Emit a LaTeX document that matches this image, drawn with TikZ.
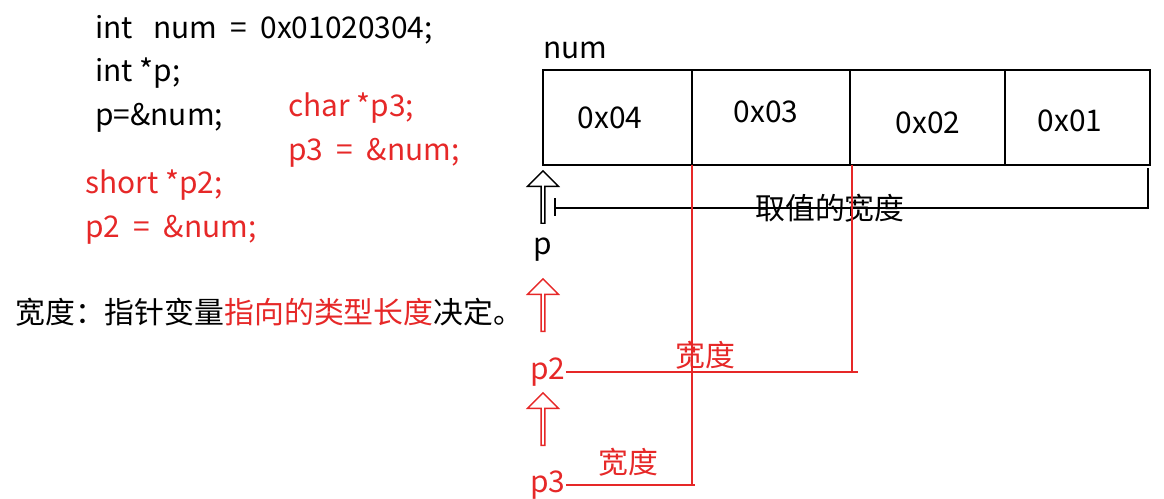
\documentclass[tikz,border=0pt]{standalone}
\usepackage{fontspec}
\setmainfont{Noto Sans CJK SC}
\usetikzlibrary{positioning, shapes.arrows}
\definecolor{CodeRed}{RGB}{230,40,40}
\tikzset{
  code/.style={anchor=west, inner sep=0pt, font=\fontsize{17}{20}\selectfont},
  redcode/.style={code, text=CodeRed},
  cell/.style={font=\fontsize{17}{20}\selectfont, inner sep=0pt},
  hollow/.style={single arrow, draw, thick, shape border rotate=90, minimum height=1.05cm, minimum width=0.62cm, single arrow head extend=0.1cm, inner sep=0pt, single arrow tip angle=90},
  wline/.style={thick, CodeRed}
}
\newcommand{\eqsp}{\ \ =\ \ }
\begin{document}
\begin{tikzpicture}[x=0.02cm, y=-0.02cm]
\useasboundingbox (0,0) rectangle (1164,498);
% code on the left
\node[code] (l1) at (95,30) {int\ \ \ num\eqsp 0x01020304;};
\node[code] (l2) at (95,73) {int *p;};
\node[code] (l3) at (95,118) {p=\&num;};
\node[redcode] (c1) at (288,108) {char *p3;};
\node[redcode] (c2) at (288,153) {p3\eqsp\&num;};
\node[redcode] (s1) at (85,185) {short *p2;};
\node[redcode] (s2) at (85,230) {p2\eqsp\&num;};
\node[code] (note) at (15,312) {宽度：指针变量\textcolor{CodeRed}{指向的类型长度}决定。};

% memory cells
\node[code] (num) at (543,50) {num};
\draw[thick] (543,70) rectangle (1150,165);
\draw[thick] (692,70) -- (692,165);
\draw[thick] (850,70) -- (850,165);
\draw[thick] (1005,70) -- (1005,165);
\node[cell] (b4) at (610,118) {0x04};
\node[cell] (b3) at (766,112) {0x03};
\node[cell] (b2) at (928,123) {0x02};
\node[cell] (b1) at (1070,121) {0x01};

% pointer p
\node[hollow] (ap) at (543,198) {};
\coordinate (w0) at (555,208);
\coordinate (w1) at (1148,208);
\draw[thick] (555,198) -- (555,216);
\draw[thick] (w0) -- (w1) -- (1148,168);
\node[cell] (wp) at (830,208) {取值的宽度};
\node[cell] (p) at (543,250) {p};

% pointer p2
\node[hollow, draw=CodeRed] (ap2) at (543,306) {};
\node[cell, text=CodeRed] (p2) at (548,372) {p2};
\coordinate (e2) at (858,372);
\coordinate (t2) at (852,165);
\draw[wline] (p2.east) -- (e2);
\draw[wline] (t2) -- (852,372);
\node[cell, text=CodeRed] (w2) at (705,355) {宽度};

% pointer p3
\node[hollow, draw=CodeRed] (ap3) at (543,420) {};
\node[cell, text=CodeRed] (p3) at (548,485) {p3};
\coordinate (e3) at (695,485);
\coordinate (t3) at (692,165);
\draw[wline] (p3.east) -- (e3);
\draw[wline] (t3) -- (692,485);
\node[cell, text=CodeRed] (w3) at (628,462) {宽度};
\end{tikzpicture}
\end{document}
